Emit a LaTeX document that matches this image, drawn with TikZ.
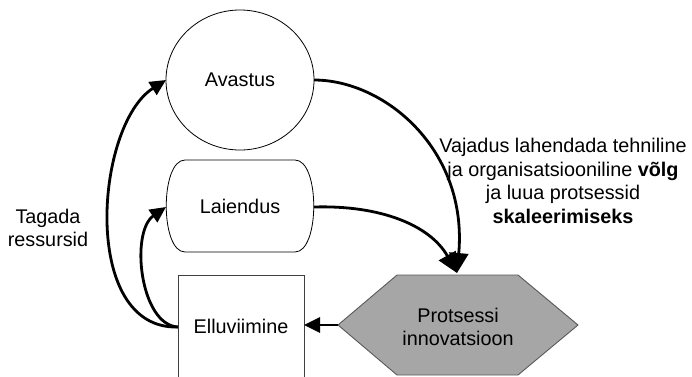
\documentclass[tikz,border=0pt]{standalone}
\usepackage{fontspec}
\setmainfont{Liberation Sans}
\usetikzlibrary{arrows.meta,shapes.geometric}
\begin{document}
\begin{tikzpicture}[x=1pt,y=-1pt,
  every node/.style={font=\fontsize{19.8}{23.7}\selectfont},
  outline/.style={draw=black,line width=0.8pt},
  conn/.style={line width=2.8pt,-{Triangle[length=20pt,width=19pt]}},
  conns/.style={line width=2.8pt,-{Triangle[length=16pt,width=15pt]}}]
\useasboundingbox (0,0) rectangle (692,376);
% Avastus
\node[ellipse,outline,minimum width=148pt,minimum height=140pt,inner sep=0pt] (av) at (240,80) {Avastus};
% Laiendus
\draw[outline] (185,160) -- (295,160) .. controls (320,160) and (320,252) .. (295,252)
  -- (185,252) .. controls (160,252) and (160,160) .. (185,160);
\node[minimum width=148pt,minimum height=92pt,inner sep=0pt] (la) at (240,206) {Laiendus};
% Elluviimine
\draw[draw=black!75,line width=0.9pt] (178,380) -- (178,275) -- (304,275) -- (304,380);
\node[minimum width=126pt,minimum height=102pt,inner sep=0pt] (el) at (241,326) {Elluviimine};
% Hexagon
\draw[draw=black!65,line width=0.9pt,fill=black!35] (338,325) -- (397,275) -- (518,275) -- (578,325) -- (518,375) -- (397,375) -- cycle;
\node[align=center] (hx) at (458,327) {Protsessi\\innovatsioon};
\coordinate (hxL) at (338,325);
\coordinate (hxT) at (457,273);
\coordinate (avE) at (314,80);
\coordinate (avW) at (166,80);
\coordinate (laE) at (314,207);
\coordinate (laW) at (166,207);
\coordinate (elW) at (178,327);
\coordinate (elE) at (304,325);
% connectors
\draw[conn] (avE) .. controls (385,80) and (468,150) .. (hxT);
\draw[conn] (laE) .. controls (380,205) and (430,225) .. (hxT);
\draw[conns] (hxL) -- (elE);
\draw[conns] (elW) .. controls (80,330) and (95,125) .. (avW);
\draw[conns] (elW) .. controls (140,325) and (130,232) .. (laW);
% labels
\node[align=center] (tg) at (48,228) {Tagada\\ressursid};
\node[align=center] (vj) at (563,181) {Vajadus lahendada tehniline\\ja organisatsiooniline \textbf{võlg}\\ja luua protsessid\\\textbf{skaleerimiseks}};
\end{tikzpicture}
\end{document}
